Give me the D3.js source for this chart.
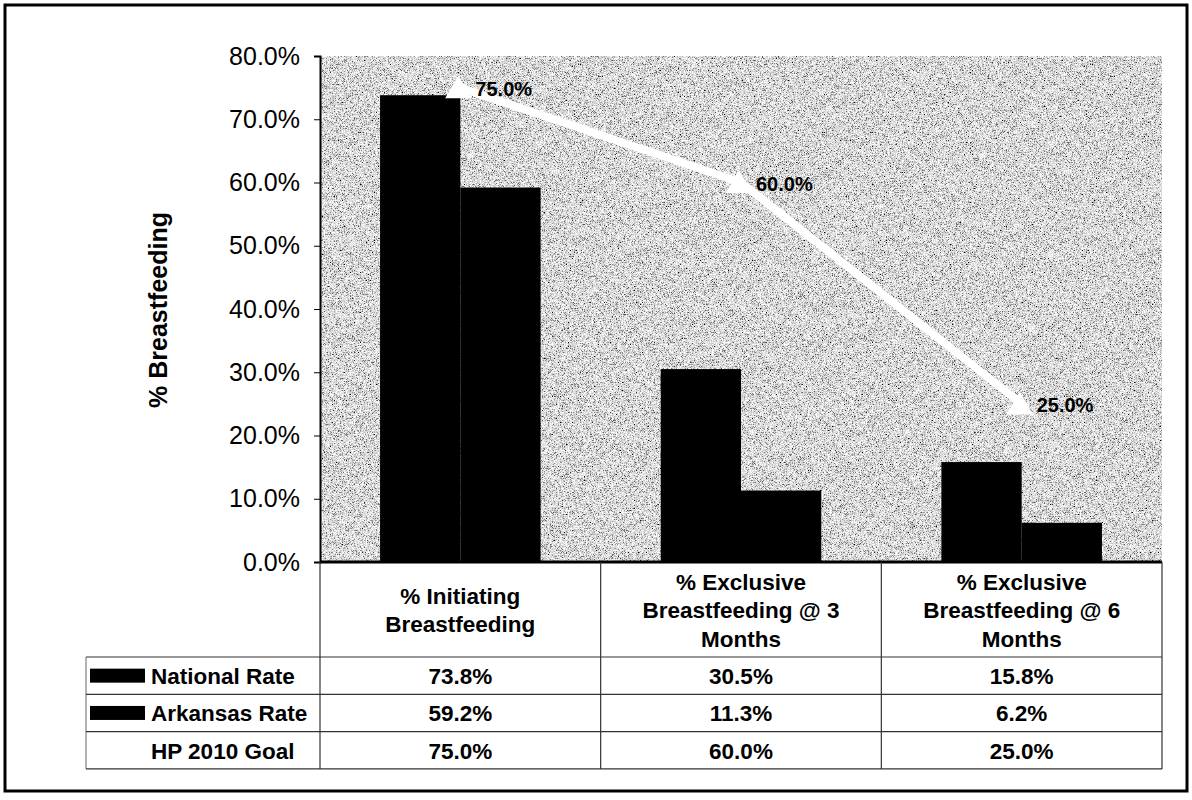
<!DOCTYPE html>
<html>
<head>
<meta charset="utf-8">
<script src="https://cdn.jsdelivr.net/npm/d3@7"></script>
<style>
  html, body { margin: 0; padding: 0; background: #fff; }
  svg { display: block; font-family: "Liberation Sans", Arial, sans-serif; }
</style>
</head>
<body>
<svg id="chart" width="1192" height="800"></svg>
<script>
// Breastfeeding rates by stage, with the Healthy People 2010 goal
const categories = [
  ["% Initiating", "Breastfeeding"],
  ["% Exclusive", "Breastfeeding @ 3", "Months"],
  ["% Exclusive", "Breastfeeding @ 6", "Months"]
];
const seriesNames = ["National Rate", "Arkansas Rate", "HP 2010 Goal"];
const nationalRate = [73.8, 30.5, 15.8];
const arkansasRate = [59.2, 11.3, 6.2];
const hpGoal = [75.0, 60.0, 25.0];
const yTicks = [0, 10, 20, 30, 40, 50, 60, 70, 80];
const yTitle = "% Breastfeeding";

const svg = d3.select("#chart");
const fmt = v => v.toFixed(1) + "%";

const plot = { left: 320, right: 1162, top: 56, bottom: 562 };
const table = { left: 86, headerBottom: 657, rowH: 37.3 };
const tableFont = 22.5;

// fine grainy grey fill for the plot area
const defs = svg.append("defs");
const f = defs.append("filter").attr("id", "grain")
  .attr("x", 0).attr("y", 0).attr("width", 1).attr("height", 1);
f.append("feTurbulence").attr("type", "fractalNoise")
  .attr("baseFrequency", 2.5).attr("numOctaves", 1).attr("seed", 7);
f.append("feColorMatrix").attr("type", "matrix")
  .attr("values", "1 0 0 0 0  1 0 0 0 0  1 0 0 0 0  0 0 0 0 1");
const ct = f.append("feComponentTransfer");
["feFuncR", "feFuncG", "feFuncB"].forEach(n =>
  ct.append(n).attr("type", "linear").attr("slope", 2.5).attr("intercept", -0.56));

const idx = d3.range(categories.length);
const x0 = d3.scaleBand().domain(idx).range([plot.left, plot.right]).padding(0);
const bw = x0.bandwidth();
const x1 = d3.scaleBand().domain([0, 1]).range([bw * 0.214, bw * 0.786]).padding(0);
const y = d3.scaleLinear().domain([0, 80]).range([plot.bottom, plot.top]);

// outer frame
svg.append("rect").attr("x", 5).attr("y", 5).attr("width", 1182).attr("height", 786)
  .attr("fill", "none").attr("stroke", "#000").attr("stroke-width", 3);

// plot background
svg.append("rect").attr("x", plot.left).attr("y", plot.top)
  .attr("width", plot.right - plot.left).attr("height", plot.bottom - plot.top)
  .attr("fill", "#adadad").attr("filter", "url(#grain)");

// bars
const barData = [];
idx.forEach(i => {
  barData.push({ i, s: 0, v: nationalRate[i] });
  barData.push({ i, s: 1, v: arkansasRate[i] });
});
svg.append("g").selectAll("rect").data(barData).join("rect")
  .attr("x", d => x0(d.i) + x1(d.s))
  .attr("width", x1.bandwidth())
  .attr("y", d => y(d.v))
  .attr("height", d => y(0) - y(d.v))
  .attr("fill", "#000");

// y axis
const yAxis = d3.axisLeft(y).tickValues(yTicks).tickFormat(d => d.toFixed(1) + "%")
  .tickSize(6).tickPadding(14);
const gy = svg.append("g").attr("transform", `translate(${plot.left},0)`).call(yAxis);
gy.select(".domain").attr("stroke", "#000").attr("stroke-width", 2);
gy.selectAll(".tick line").attr("stroke", "#000");
gy.selectAll(".tick text").attr("font-size", 25).attr("fill", "#000")
  .attr("font-family", "'Liberation Sans', Arial, sans-serif");

// plot bottom edge
svg.append("line").attr("x1", plot.left).attr("x2", plot.right)
  .attr("y1", plot.bottom).attr("y2", plot.bottom)
  .attr("stroke", "#000").attr("stroke-width", 3);

svg.append("text")
  .attr("transform", `translate(158,${(plot.top + plot.bottom) / 2 + 1}) rotate(-90)`)
  .attr("text-anchor", "middle").attr("dominant-baseline", "central")
  .attr("font-size", 25).attr("font-weight", "bold").text(yTitle);

// HP 2010 goal line with triangle markers
const cx = i => x0(i) + bw / 2;
const line = d3.line().x((d, i) => cx(i)).y(d => y(d));
svg.append("path").datum(hpGoal).attr("d", line)
  .attr("fill", "none").attr("stroke", "#fff").attr("stroke-width", 8);
svg.append("g").selectAll("path").data(hpGoal).join("path")
  .attr("transform", (d, i) => `translate(${cx(i) - 2},${y(d) + 3})`)
  .attr("d", d3.symbol(d3.symbolTriangle, 300))
  .attr("fill", "#fff");
svg.append("g").selectAll("text").data(hpGoal).join("text")
  .attr("x", (d, i) => cx(i) + 15)
  .attr("y", d => y(d) + 1)
  .attr("dominant-baseline", "central")
  .attr("font-size", 20).attr("font-weight", "bold").text(fmt);

// data table
const lineCol = "#333";
const rowY = k => table.headerBottom + k * table.rowH;
const tg = svg.append("g");
// column separators
idx.concat([categories.length]).forEach(i => {
  const xx = i < categories.length ? x0(i) : plot.right;
  tg.append("line").attr("x1", xx).attr("x2", xx)
    .attr("y1", plot.bottom).attr("y2", rowY(3))
    .attr("stroke", lineCol).attr("stroke-width", 1.2);
});
tg.append("line").attr("x1", table.left).attr("x2", table.left)
  .attr("y1", rowY(0)).attr("y2", rowY(3)).attr("stroke", "#666");
[0, 1, 2, 3].forEach(k => {
  tg.append("line").attr("x1", table.left).attr("x2", plot.right)
    .attr("y1", rowY(k)).attr("y2", rowY(k)).attr("stroke", lineCol).attr("stroke-width", 1.2);
});

// category headers
idx.forEach(i => {
  const lines = categories[i];
  const mid = (plot.bottom + rowY(0)) / 2 + 1;
  const lh = 28.5;
  const t = tg.append("text").attr("text-anchor", "middle")
    .attr("font-size", tableFont).attr("font-weight", "bold");
  lines.forEach((s, j) => {
    t.append("tspan").attr("x", x0(i) + bw / 2)
      .attr("y", mid + (j - (lines.length - 1) / 2) * lh)
      .attr("dominant-baseline", "central").text(s);
  });
});

// row labels, legend keys and values
const rows = [nationalRate, arkansasRate, hpGoal];
rows.forEach((vals, k) => {
  const cy = rowY(k) + table.rowH / 2;
  if (k < 2) {
    tg.append("rect").attr("x", 90).attr("y", cy - 7).attr("width", 55).attr("height", 14)
      .attr("fill", "#000");
  }
  tg.append("text").attr("x", 151).attr("y", cy + 1).attr("dominant-baseline", "central")
    .attr("font-size", tableFont).attr("font-weight", "bold").text(seriesNames[k]);
  vals.forEach((v, i) => {
    tg.append("text").attr("x", x0(i) + bw / 2).attr("y", cy + 1)
      .attr("text-anchor", "middle").attr("dominant-baseline", "central")
      .attr("font-size", tableFont).attr("font-weight", "bold").text(fmt(v));
  });
});
</script>
</body>
</html>
